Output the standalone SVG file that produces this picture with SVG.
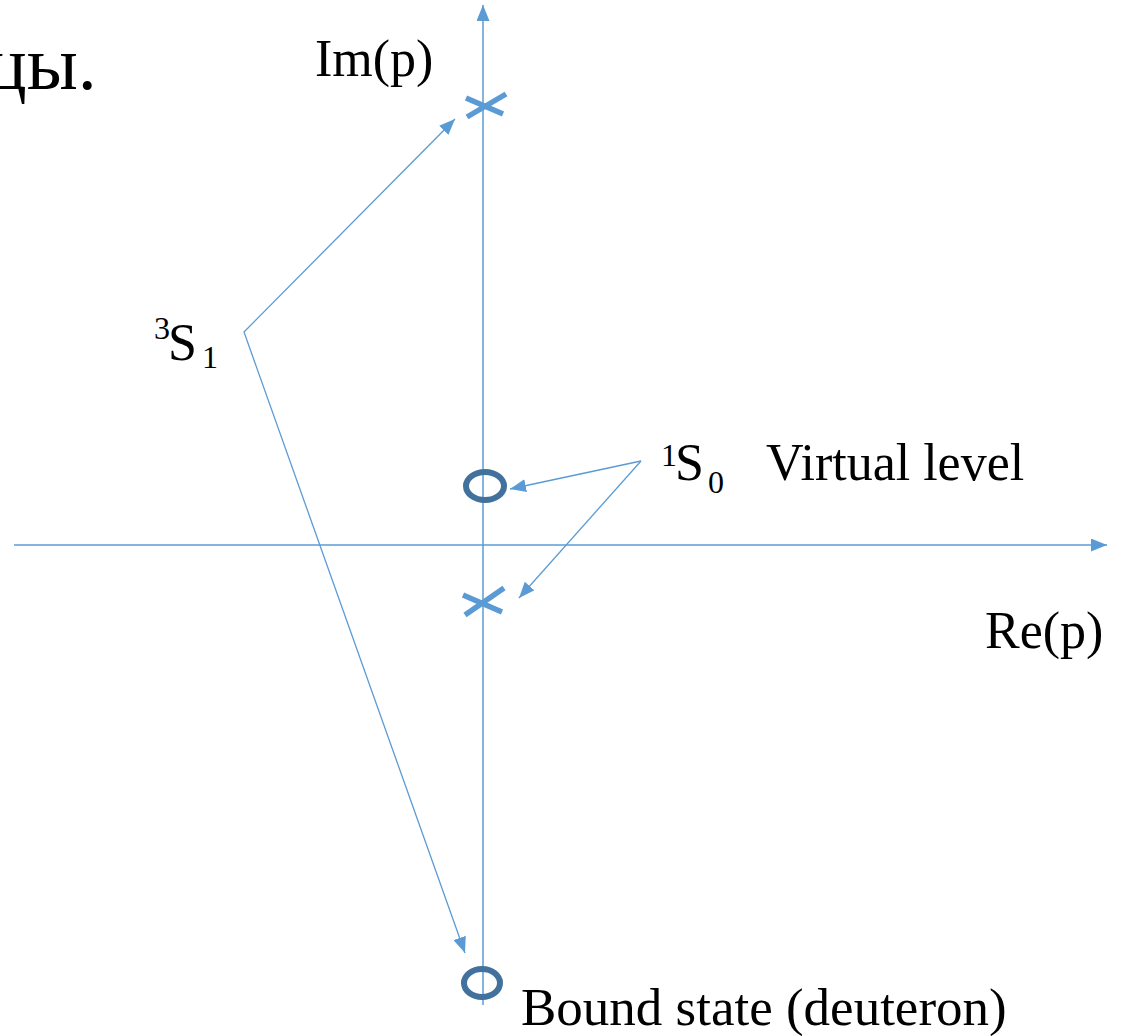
<svg xmlns="http://www.w3.org/2000/svg" width="1124" height="1036" viewBox="0 0 1124 1036">
<style>
.t{font-family:'Liberation Serif','Times New Roman',Times,'DejaVu Serif',serif;fill:#000}
.ax{stroke:#5B9BD5;stroke-width:1.5;fill:none}
.cn{stroke:#5B9BD5;stroke-width:1.3;fill:none}
.cross{stroke:#5B9BD5;stroke-width:5.5;fill:none}
.ring{stroke:#41719C;stroke-width:6;fill:none}
</style>
<defs>
<marker id="ah" markerUnits="userSpaceOnUse" markerWidth="17" markerHeight="13" refX="16" refY="6.5" orient="auto-start-reverse">
<path d="M0,0 L16,6.5 L0,13 z" fill="#5B9BD5"/>
</marker>
</defs>
<rect width="1124" height="1036" fill="#fff"/>
<text class="t" x="-14" y="89" font-size="76">цы.</text>
<g id="axes">
<line class="ax" x1="14" y1="545" x2="1107" y2="545" marker-end="url(#ah)"/>
<line class="ax" x1="483" y1="1005" x2="483" y2="5" marker-end="url(#ah)"/>
</g>
<g id="label-im"><text class="t" x="315" y="76" font-size="52">Im(p)</text></g>
<g id="label-re"><text class="t" x="985" y="648" font-size="52">Re(p)</text></g>
<g id="pole-top">
<line class="cross" x1="467" y1="117" x2="506" y2="94"/>
<line class="cross" x1="466" y1="98" x2="503" y2="114"/>
</g>
<g id="pole-bottom">
<line class="cross" x1="465" y1="615" x2="504" y2="588"/>
<line class="cross" x1="463" y1="595" x2="502" y2="612"/>
</g>
<g id="virtual-zero"><ellipse class="ring" cx="485" cy="486" rx="19" ry="14"/></g>
<g id="bound-zero"><ellipse class="ring" cx="482" cy="983" rx="18" ry="14"/></g>
<g id="label-3s1">
<text class="t" x="154" y="339" font-size="32">3</text>
<text class="t" x="168" y="360" font-size="52">S</text>
<text class="t" x="202" y="368" font-size="32">1</text>
</g>
<g id="label-1s0">
<text class="t" x="661" y="466" font-size="32">1</text>
<text class="t" x="675" y="480" font-size="52">S</text>
<text class="t" x="708" y="493" font-size="32">0</text>
<text class="t" x="766" y="480" font-size="52">Virtual level</text>
</g>
<g id="label-bound"><text class="t" x="521" y="1025" font-size="53">Bound state (deuteron)</text></g>
<g id="connectors">
<polyline class="cn" points="455,119 244,332 465,953" marker-start="url(#ah)" marker-end="url(#ah)"/>
<line class="cn" x1="641" y1="461" x2="510" y2="489" marker-end="url(#ah)"/>
<line class="cn" x1="641" y1="461" x2="519" y2="598" marker-end="url(#ah)"/>
</g>
</svg>
